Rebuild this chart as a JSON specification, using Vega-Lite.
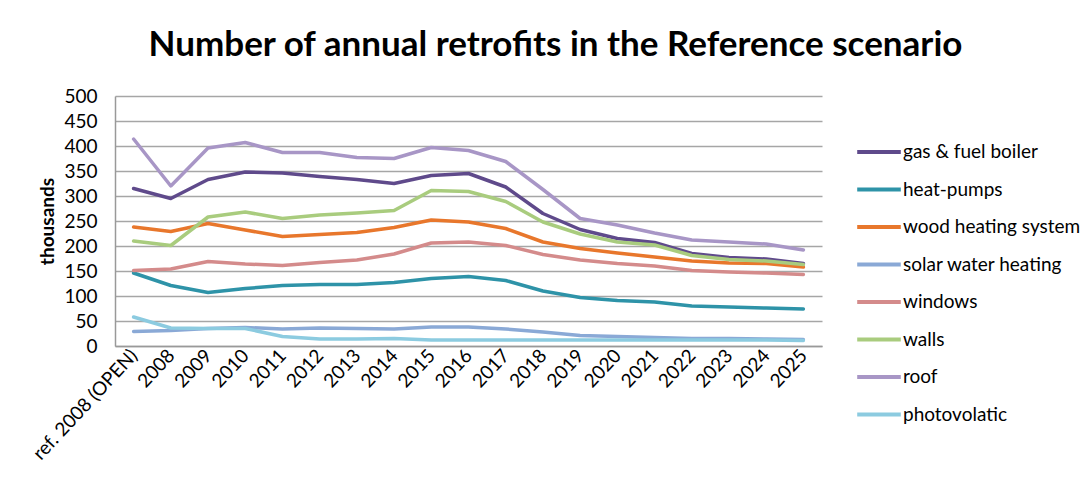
{
  "$schema": "https://vega.github.io/schema/vega-lite/v6.json",
  "width": 707,
  "height": 250,
  "autosize": {"type": "none"},
  "padding": {"left": 115, "top": 96, "right": 268, "bottom": 138},
  "background": "white",
  "title": {
    "text": "Number of annual retrofits in the Reference scenario",
    "font": "Lato",
    "fontSize": 35,
    "fontWeight": "bold",
    "color": "#000000",
    "anchor": "middle",
    "dx": 87,
    "offset": 24
  },
  "data": {
    "values": [
      {"year": "ref. 2008 (OPEN)", "gas & fuel boiler": 315, "heat-pumps": 146, "wood heating system": 238, "solar water heating": 29, "windows": 151, "walls": 210, "roof": 414, "photovolatic": 58},
      {"year": "2008", "gas & fuel boiler": 295, "heat-pumps": 121, "wood heating system": 229, "solar water heating": 31, "windows": 154, "walls": 201, "roof": 320, "photovolatic": 36},
      {"year": "2009", "gas & fuel boiler": 333, "heat-pumps": 107, "wood heating system": 245, "solar water heating": 35, "windows": 169, "walls": 258, "roof": 396, "photovolatic": 35},
      {"year": "2010", "gas & fuel boiler": 348, "heat-pumps": 115, "wood heating system": 232, "solar water heating": 37, "windows": 164, "walls": 268, "roof": 407, "photovolatic": 35},
      {"year": "2011", "gas & fuel boiler": 346, "heat-pumps": 121, "wood heating system": 219, "solar water heating": 34, "windows": 161, "walls": 255, "roof": 387, "photovolatic": 19},
      {"year": "2012", "gas & fuel boiler": 339, "heat-pumps": 123, "wood heating system": 223, "solar water heating": 36, "windows": 167, "walls": 262, "roof": 387, "photovolatic": 14},
      {"year": "2013", "gas & fuel boiler": 333, "heat-pumps": 123, "wood heating system": 227, "solar water heating": 35, "windows": 172, "walls": 266, "roof": 377, "photovolatic": 14},
      {"year": "2014", "gas & fuel boiler": 325, "heat-pumps": 127, "wood heating system": 237, "solar water heating": 34, "windows": 184, "walls": 271, "roof": 375, "photovolatic": 15},
      {"year": "2015", "gas & fuel boiler": 341, "heat-pumps": 135, "wood heating system": 252, "solar water heating": 38, "windows": 206, "walls": 311, "roof": 397, "photovolatic": 12},
      {"year": "2016", "gas & fuel boiler": 345, "heat-pumps": 139, "wood heating system": 248, "solar water heating": 38, "windows": 208, "walls": 309, "roof": 391, "photovolatic": 12},
      {"year": "2017", "gas & fuel boiler": 318, "heat-pumps": 131, "wood heating system": 235, "solar water heating": 34, "windows": 201, "walls": 289, "roof": 369, "photovolatic": 12},
      {"year": "2018", "gas & fuel boiler": 265, "heat-pumps": 110, "wood heating system": 208, "solar water heating": 28, "windows": 183, "walls": 248, "roof": 313, "photovolatic": 12},
      {"year": "2019", "gas & fuel boiler": 233, "heat-pumps": 97, "wood heating system": 195, "solar water heating": 21, "windows": 172, "walls": 224, "roof": 255, "photovolatic": 12},
      {"year": "2020", "gas & fuel boiler": 215, "heat-pumps": 91, "wood heating system": 186, "solar water heating": 19, "windows": 165, "walls": 208, "roof": 242, "photovolatic": 12},
      {"year": "2021", "gas & fuel boiler": 207, "heat-pumps": 88, "wood heating system": 178, "solar water heating": 17, "windows": 160, "walls": 202, "roof": 226, "photovolatic": 12},
      {"year": "2022", "gas & fuel boiler": 185, "heat-pumps": 80, "wood heating system": 170, "solar water heating": 15, "windows": 151, "walls": 181, "roof": 212, "photovolatic": 12},
      {"year": "2023", "gas & fuel boiler": 177, "heat-pumps": 78, "wood heating system": 166, "solar water heating": 15, "windows": 148, "walls": 173, "roof": 208, "photovolatic": 12},
      {"year": "2024", "gas & fuel boiler": 174, "heat-pumps": 76, "wood heating system": 165, "solar water heating": 14, "windows": 146, "walls": 170, "roof": 204, "photovolatic": 12},
      {"year": "2025", "gas & fuel boiler": 165, "heat-pumps": 74, "wood heating system": 158, "solar water heating": 13, "windows": 143, "walls": 163, "roof": 192, "photovolatic": 11}
    ]
  },
  "transform": [
    {"fold": ["gas & fuel boiler", "heat-pumps", "wood heating system", "solar water heating", "windows", "walls", "roof", "photovolatic"], "as": ["series", "value"]}
  ],
  "mark": {"type": "line", "strokeWidth": 3.5, "strokeCap": "round", "strokeJoin": "round"},
  "encoding": {
    "x": {
      "field": "year",
      "type": "ordinal",
      "sort": null,
      "scale": {"type": "point", "padding": 0.5},
      "axis": {
        "title": null,
        "labelAngle": -47,
        "labelAlign": "right",
        "labelBaseline": "middle",
        "labelFont": "Lato",
        "labelFontSize": 19,
        "labelColor": "#000000",
        "labelPadding": 6,
        "ticks": false,
        "domainColor": "#999999",
        "domainWidth": 1.5,
        "grid": false
      }
    },
    "y": {
      "field": "value",
      "type": "quantitative",
      "scale": {"domain": [0, 500], "nice": false},
      "axis": {
        "title": "thousands",
        "titleFont": "Lato",
        "titleFontSize": 19,
        "titleFontWeight": "bold",
        "titleColor": "#000000",
        "titlePadding": 6,
        "values": [0, 50, 100, 150, 200, 250, 300, 350, 400, 450, 500],
        "labelFont": "Lato",
        "labelFontSize": 19,
        "labelColor": "#000000",
        "labelPadding": 18,
        "ticks": false,
        "domainColor": "#999999",
        "domainWidth": 1.5,
        "grid": true,
        "gridColor": "#a6a6a6",
        "gridWidth": 1.5
      }
    },
    "color": {
      "field": "series",
      "type": "nominal",
      "sort": ["gas & fuel boiler", "heat-pumps", "wood heating system", "solar water heating", "windows", "walls", "roof", "photovolatic"],
      "scale": {
        "domain": ["gas & fuel boiler", "heat-pumps", "wood heating system", "solar water heating", "windows", "walls", "roof", "photovolatic"],
        "range": ["#5f4a8b", "#2e93a8", "#e8772c", "#8aa9d6", "#d48b8b", "#a9cc7e", "#a896c6", "#8ccbe0"]
      },
      "legend": {
        "title": null,
        "orient": "none",
        "legendX": 740,
        "legendY": 32,
        "symbolType": "stroke",
        "symbolSize": 1900,
        "symbolStrokeWidth": 4,
        "labelFont": "Lato",
        "labelFontSize": 19,
        "labelColor": "#000000",
        "labelOffset": 0,
        "labelLimit": 300,
        "rowPadding": 3.5
      }
    }
  },
  "config": {
    "view": {"stroke": null}
  }
}
